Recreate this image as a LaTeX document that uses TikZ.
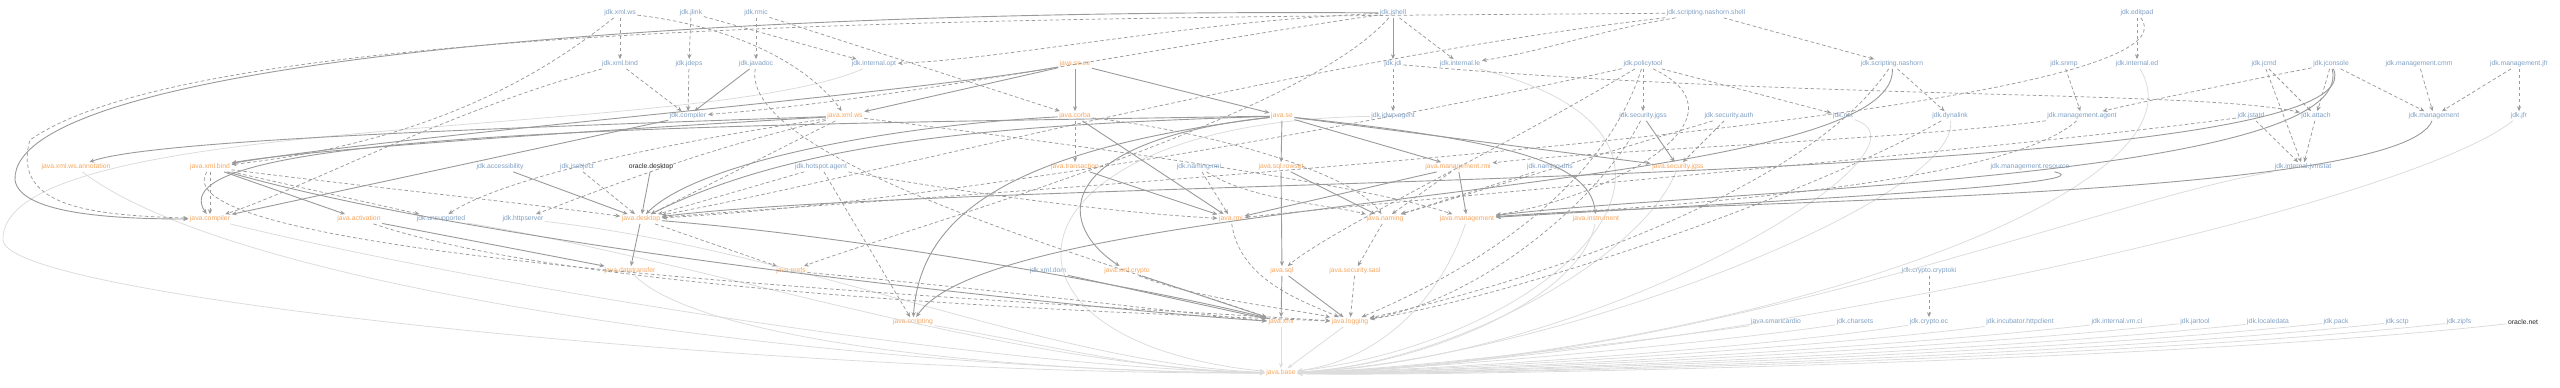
\documentclass[tikz,border=0pt]{standalone}
\usepackage{fontspec}
\setmainfont{Liberation Sans}
\usepackage{tikz}
\usetikzlibrary{arrows.meta}

\definecolor{jdkmod}{HTML}{7F9FC3}
\definecolor{javamod}{HTML}{F6A55E}
\definecolor{edgegray}{HTML}{9A9A9A}
\definecolor{basegray}{HTML}{DCDCDC}

\begin{document}
\begin{tikzpicture}[x=1pt,y=-1pt,
  mod/.style={font=\fontsize{6.8}{8}\selectfont,inner sep=1.5pt},
  jdk/.style={mod,text=jdkmod},
  jse/.style={mod,text=javamod},
  orcl/.style={mod,text=black!85},
  req/.style={draw=edgegray,line width=0.75pt,dash pattern=on 3.5pt off 2.5pt,-{Stealth[length=5pt,width=4.2pt]}},
  reqt/.style={draw=edgegray,line width=0.9pt,-{Stealth[length=5pt,width=4.2pt]}},
  tobase/.style={draw=basegray,line width=0.8pt,-{Stealth[length=5pt,width=4.2pt]}}]
\useasboundingbox (0,0) rectangle (2560,388);

% row 1
\node[jdk] (jxmlws) at (620,13) {jdk.xml.ws};
\node[jdk] (jlink) at (691,13) {jdk.jlink};
\node[jdk] (rmic) at (756,13) {jdk.rmic};
\node[jdk] (jshell) at (1393,13) {jdk.jshell};
\node[jdk] (nashornshell) at (1706,13) {jdk.scripting.nashorn.shell};
\node[jdk] (editpad) at (2137,13) {jdk.editpad};
% row 2
\node[jdk] (jxmlbind) at (620,64) {jdk.xml.bind};
\node[jdk] (jdeps) at (689,64) {jdk.jdeps};
\node[jdk] (javadoc) at (756,64) {jdk.javadoc};
\node[jdk] (intopt) at (874,64) {jdk.internal.opt};
\node[jse] (seee) at (1075,64) {java.se.ee};
\node[jdk] (jdi) at (1393,64) {jdk.jdi};
\node[jdk] (intle) at (1460,64) {jdk.internal.le};
\node[jdk] (policytool) at (1643,64) {jdk.policytool};
\node[jdk] (nashorn) at (1892,64) {jdk.scripting.nashorn};
\node[jdk] (snmp) at (2064,64) {jdk.snmp};
\node[jdk] (inted) at (2137,64) {jdk.internal.ed};
\node[jdk] (jcmd) at (2264,64) {jdk.jcmd};
\node[jdk] (jconsole) at (2331,64) {jdk.jconsole};
\node[jdk] (mgmtcmm) at (2419,64) {jdk.management.cmm};
\node[jdk] (mgmtjfr) at (2519,64) {jdk.management.jfr};
% row 3
\node[jdk] (jcompiler) at (688,116) {jdk.compiler};
\node[jse] (xmlws) at (845,116) {java.xml.ws};
\node[jse] (corba) at (1075,116) {java.corba};
\node[jse] (se) at (1282,116) {java.se};
\node[jdk] (jdwp) at (1393,116) {jdk.jdwp.agent};
\node[jdk] (jsecjgss) at (1643,116) {jdk.security.jgss};
\node[jdk] (secauth) at (1729,116) {jdk.security.auth};
\node[jdk] (jnet) at (1843,116) {jdk.net};
\node[jdk] (dynalink) at (1950,116) {jdk.dynalink};
\node[jdk] (mgmtagent) at (2082,116) {jdk.management.agent};
\node[jdk] (jstatd) at (2251,116) {jdk.jstatd};
\node[jdk] (attach) at (2316,116) {jdk.attach};
\node[jdk] (jmgmt) at (2434,116) {jdk.management};
\node[jdk] (jfr) at (2519,116) {jdk.jfr};
% row 4
\node[jse] (xmlwsann) at (76,167) {java.xml.ws.annotation};
\node[jse] (xmlbind) at (210,167) {java.xml.bind};
\node[jdk] (access) at (500,167) {jdk.accessibility};
\node[jdk] (jsobject) at (577,167) {jdk.jsobject};
\node[orcl] (odesktop) at (651,167) {oracle.desktop};
\node[jdk] (hotspot) at (821,167) {jdk.hotspot.agent};
\node[jse] (transaction) at (1075,167) {java.transaction};
\node[jdk] (namingrmi) at (1199,167) {jdk.naming.rmi};
\node[jse] (sqlrowset) at (1281,167) {java.sql.rowset};
\node[jse] (mgmtrmi) at (1458,167) {java.management.rmi};
\node[jdk] (namingdns) at (1550,167) {jdk.naming.dns};
\node[jse] (secjgss) at (1678,167) {java.security.jgss};
\node[jdk] (mgmtres) at (2030,167) {jdk.management.resource};
\node[jdk] (jvmstat) at (2303,167) {jdk.internal.jvmstat};
% row 5
\node[jse] (compiler) at (210,219) {java.compiler};
\node[jse] (activation) at (359,219) {java.activation};
\node[jdk] (unsupported) at (441,219) {jdk.unsupported};
\node[jdk] (httpserver) at (523,219) {jdk.httpserver};
\node[jse] (desktop) at (641,219) {java.desktop};
\node[jse] (rmi) at (1231,219) {java.rmi};
\node[jse] (naming) at (1385,219) {java.naming};
\node[jse] (mgmt) at (1467,219) {java.management};
\node[jse] (instrument) at (1596,219) {java.instrument};
% row 6
\node[jse] (dtrans) at (630,271) {java.datatransfer};
\node[jse] (prefs) at (791,271) {java.prefs};
\node[jdk] (xmldom) at (1048,271) {jdk.xml.dom};
\node[jse] (xmlcrypto) at (1127,271) {java.xml.crypto};
\node[jse] (sql) at (1282,271) {java.sql};
\node[jse] (sasl) at (1355,271) {java.security.sasl};
\node[jdk] (cryptoki) at (1929,271) {jdk.crypto.cryptoki};
% row 7
\node[jse] (scripting) at (913,322) {java.scripting};
\node[jse] (xml) at (1281,322) {java.xml};
\node[jse] (logging) at (1350,322) {java.logging};
\node[jdk] (smartcardio) at (1776,322) {java.smartcardio};
\node[jdk] (charsets) at (1855,322) {jdk.charsets};
\node[jdk] (cryptoec) at (1929,322) {jdk.crypto.ec};
\node[jdk] (httpclient) at (2020,322) {jdk.incubator.httpclient};
\node[jdk] (vmci) at (2117,322) {jdk.internal.vm.ci};
\node[jdk] (jartool) at (2195,322) {jdk.jartool};
\node[jdk] (localedata) at (2268,322) {jdk.localedata};
\node[jdk] (pack) at (2336,322) {jdk.pack};
\node[jdk] (sctp) at (2397,322) {jdk.sctp};
\node[jdk] (zipfs) at (2459,322) {jdk.zipfs};
\node[orcl] (onet) at (2523,322) {oracle.net};
% row 8
\node[jse] (base) at (1281,373) {java.base};

% edges to java.base
\draw[tobase] (xml) -- (base);
\draw[tobase] (logging) -- (base);
\draw[tobase] (xmlwsann) .. controls (250,300) and (900,372) .. (base);
\draw[tobase] (compiler) .. controls (500,290) and (1000,368) .. (base);
\draw[tobase] (intopt) .. controls (700,140) and (0,110) .. (3,240) .. controls (6,300) and (800,375) .. (base);
\draw[tobase] (unsupported) .. controls (700,260) and (1000,366) .. (base);
\draw[tobase] (httpserver) .. controls (800,250) and (1050,364) .. (base);
\draw[tobase] (dtrans) .. controls (700,340) and (1000,372) .. (base);
\draw[tobase] (scripting) .. controls (1050,345) and (1150,372) .. (base);
\draw[tobase] (jdwp) .. controls (1000,122) and (960,340) .. (base);
\draw[tobase] (intle) .. controls (1760,140) and (1560,340) .. (base);
\draw[tobase] (mgmt) .. controls (1440,300) and (1380,360) .. (base);
\draw[tobase] (instrument) .. controls (1580,300) and (1420,366) .. (base);
\draw[tobase] (jnet) .. controls (1950,150) and (1600,360) .. (base);
\draw[tobase] (secjgss) .. controls (1640,260) and (1450,364) .. (base);
\draw[tobase] (dynalink) .. controls (1960,200) and (1550,360) .. (base);
\draw[tobase] (inted) .. controls (2220,200) and (1700,362) .. (base);
\draw[tobase] (jvmstat) .. controls (2100,200) and (1700,366) .. (base);
\draw[tobase] (jfr) .. controls (2400,210) and (1700,360) .. (base);
\draw[tobase] (smartcardio) .. controls (1650,340) and (1400,370) .. (base);
\draw[tobase] (charsets) .. controls (1700,345) and (1400,371) .. (base);
\draw[tobase] (cryptoec) .. controls (1750,350) and (1400,372) .. (base);
\draw[tobase] (httpclient) .. controls (1800,350) and (1400,373) .. (base);
\draw[tobase] (vmci) .. controls (1850,352) and (1400,374) .. (base);
\draw[tobase] (jartool) .. controls (1900,354) and (1400,374) .. (base);
\draw[tobase] (localedata) .. controls (1950,356) and (1400,375) .. (base);
\draw[tobase] (pack) .. controls (2000,358) and (1400,375) .. (base);
\draw[tobase] (sctp) .. controls (2050,360) and (1400,376) .. (base);
\draw[tobase] (zipfs) .. controls (2100,362) and (1400,376) .. (base);
\draw[tobase] (onet) .. controls (2150,364) and (1400,377) .. (base);

% requires transitive
\draw[reqt] (seee) -- (corba);
\draw[reqt] (seee) -- (se);
\draw[reqt] (seee) -- (xmlws);
\draw[reqt] (seee) .. controls (900,95) and (400,135) .. (xmlbind);
\draw[reqt] (se) -- (sqlrowset);
\draw[reqt] (se) -- (mgmtrmi);
\draw[reqt] (se) -- (secjgss);
\draw[reqt] (se) .. controls (1500,140) and (1590,160) .. (instrument);
\draw[reqt] (se) .. controls (1000,125) and (800,140) .. (desktop);
\draw[reqt] (se) .. controls (1000,150) and (920,220) .. (scripting);
\draw[reqt] (se) .. controls (1060,140) and (1050,220) .. (xmlcrypto);
\draw[reqt] (se) .. controls (700,125) and (150,130) .. (compiler);
\draw[reqt] (jshell) .. controls (700,8) and (10,60) .. (15,180) .. controls (20,215) and (120,219) .. (compiler);
\draw[reqt] (sqlrowset) -- (sql);
\draw[reqt] (sqlrowset) -- (naming);
\draw[reqt] (sql) -- (xml);
\draw[reqt] (sql) -- (logging);
\draw[reqt] (mgmtrmi) -- (mgmt);
\draw[reqt] (mgmtrmi) -- (rmi);
\draw[reqt] (transaction) -- (rmi);
\draw[reqt] (corba) .. controls (900,125) and (700,160) .. (desktop);
\draw[reqt] (corba) -- (rmi);
\draw[reqt] (desktop) -- (dtrans);
\draw[reqt] (desktop) .. controls (900,240) and (1200,300) .. (xml);
\draw[reqt] (xmlbind) -- (activation);
\draw[reqt] (xmlbind) .. controls (500,250) and (1100,310) .. (xml);
\draw[reqt] (activation) -- (dtrans);
\draw[reqt] (xmlws) .. controls (600,130) and (300,150) .. (xmlbind);
\draw[reqt] (xmlws) .. controls (500,128) and (150,140) .. (xmlwsann);
\draw[reqt] (xmlcrypto) -- (xml);
\draw[reqt] (xmldom) -- (xml);
\draw[reqt] (access) -- (desktop);
\draw[reqt] (odesktop) -- (desktop);
\draw[reqt] (javadoc) -- (jcompiler);
\draw[reqt] (jcompiler) -- (compiler);
\draw[reqt] (jshell) -- (jdi);
\draw[reqt] (nashorn) .. controls (1900,200) and (1000,190) .. (scripting);
\draw[reqt] (jsecjgss) -- (secjgss);
\draw[reqt] (jconsole) .. controls (2390,190) and (1000,175) .. (desktop);
\draw[reqt] (jconsole) .. controls (2360,180) and (1700,190) .. (mgmt);
\draw[reqt] (jmgmt) .. controls (2400,200) and (1700,200) .. (mgmt);
\draw[reqt] (mgmtres) .. controls (2120,185) and (1700,205) .. (mgmt);

% requires
\draw[req] (jxmlws) -- (jxmlbind);
\draw[req] (jxmlws) .. controls (760,30) and (820,80) .. (xmlws);
\draw[req] (jxmlbind) .. controls (450,110) and (300,190) .. (compiler);
\draw[req] (jxmlbind) -- (jcompiler);
\draw[req] (jxmlws) .. controls (560,60) and (450,140) .. (xmlbind);
\draw[req] (jlink) -- (jdeps);
\draw[req] (jlink) -- (intopt);
\draw[req] (rmic) -- (javadoc);
\draw[req] (rmic) -- (corba);
\draw[req] (jdeps) -- (jcompiler);
\draw[req] (javadoc) .. controls (740,160) and (1100,260) .. (xml);
\draw[req] (jshell) -- (intle);
\draw[req] (jshell) .. controls (1200,20) and (1000,60) .. (intopt);
\draw[req] (jshell) .. controls (1200,40) and (900,100) .. (jcompiler);
\draw[req] (jshell) .. controls (1300,120) and (900,230) .. (prefs);
\draw[req] (jdi) -- (jdwp);
\draw[req] (jdi) .. controls (1800,100) and (2200,90) .. (attach);
\draw[req] (nashornshell) -- (nashorn);
\draw[req] (nashornshell) .. controls (1600,30) and (1550,50) .. (intle);
\draw[req] (nashornshell) .. controls (1000,18) and (200,20) .. (30,140) .. controls (10,210) and (100,215) .. (compiler);
\draw[req] (nashornshell) .. controls (1300,60) and (900,170) .. (desktop);
\draw[req] (policytool) -- (jsecjgss);
\draw[req] (policytool) -- (jnet);
\draw[req] (policytool) .. controls (1300,140) and (900,205) .. (desktop);
\draw[req] (policytool) .. controls (1500,150) and (1330,230) .. (sql);
\draw[req] (policytool) .. controls (1760,120) and (1600,200) .. (mgmt);
\draw[req] (policytool) .. controls (1600,200) and (1450,280) .. (logging);
\draw[req] (secauth) -- (secjgss);
\draw[req] (secauth) -- (naming);
\draw[req] (nashorn) -- (dynalink);
\draw[req] (nashorn) .. controls (1800,200) and (1500,290) .. (logging);
\draw[req] (editpad) -- (inted);
\draw[req] (editpad) .. controls (2220,120) and (1000,190) .. (desktop);
\draw[req] (snmp) -- (mgmtagent);
\draw[req] (mgmtagent) .. controls (1900,140) and (1600,150) .. (mgmtrmi);
\draw[req] (mgmtagent) .. controls (2000,190) and (1600,210) .. (mgmt);
\draw[req] (jcmd) -- (attach);
\draw[req] (jcmd) -- (jvmstat);
\draw[req] (jconsole) -- (attach);
\draw[req] (jconsole) -- (jmgmt);
\draw[req] (jconsole) .. controls (2250,80) and (2150,100) .. (mgmtagent);
\draw[req] (jstatd) -- (jvmstat);
\draw[req] (jstatd) .. controls (2000,150) and (1400,200) .. (rmi);
\draw[req] (attach) -- (jvmstat);
\draw[req] (mgmtcmm) -- (jmgmt);
\draw[req] (mgmtjfr) -- (jmgmt);
\draw[req] (mgmtjfr) -- (jfr);
\draw[req] (cryptoki) -- (cryptoec);
\draw[req] (hotspot) -- (desktop);
\draw[req] (hotspot) -- (scripting);
\draw[req] (hotspot) .. controls (950,190) and (1100,212) .. (rmi);
\draw[req] (jsobject) -- (desktop);
\draw[req] (corba) -- (transaction);
\draw[req] (corba) .. controls (1200,130) and (1350,170) .. (naming);
\draw[req] (xmlbind) -- (compiler);
\draw[req] (xmlbind) -- (unsupported);
\draw[req] (xmlbind) .. controls (350,185) and (500,200) .. (desktop);
\draw[req] (xmlbind) .. controls (150,260) and (1000,300) .. (logging);
\draw[req] (xmlws) .. controls (700,150) and (600,190) .. (httpserver);
\draw[req] (xmlws) .. controls (650,145) and (500,180) .. (unsupported);
\draw[req] (xmlws) -- (desktop);
\draw[req] (xmlws) .. controls (1000,135) and (1350,180) .. (mgmt);
\draw[req] (desktop) -- (prefs);
\draw[req] (prefs) .. controls (1000,290) and (1200,315) .. (xml);
\draw[req] (activation) .. controls (600,300) and (1200,315) .. (logging);
\draw[req] (namingrmi) -- (rmi);
\draw[req] (namingrmi) .. controls (1250,200) and (1330,205) .. (naming);
\draw[req] (namingdns) -- (naming);
\draw[req] (naming) -- (sasl);
\draw[req] (sasl) -- (logging);
\draw[req] (rmi) .. controls (1240,280) and (1300,300) .. (logging);
\draw[req] (mgmtrmi) -- (naming);
\draw[req] (xmlcrypto) .. controls (1200,300) and (1300,310) .. (logging);
\draw[req] (dynalink) .. controls (1800,200) and (1500,300) .. (logging);
\draw[req] (jsecjgss) .. controls (1600,200) and (1480,300) .. (logging);
\end{tikzpicture}
\end{document}
